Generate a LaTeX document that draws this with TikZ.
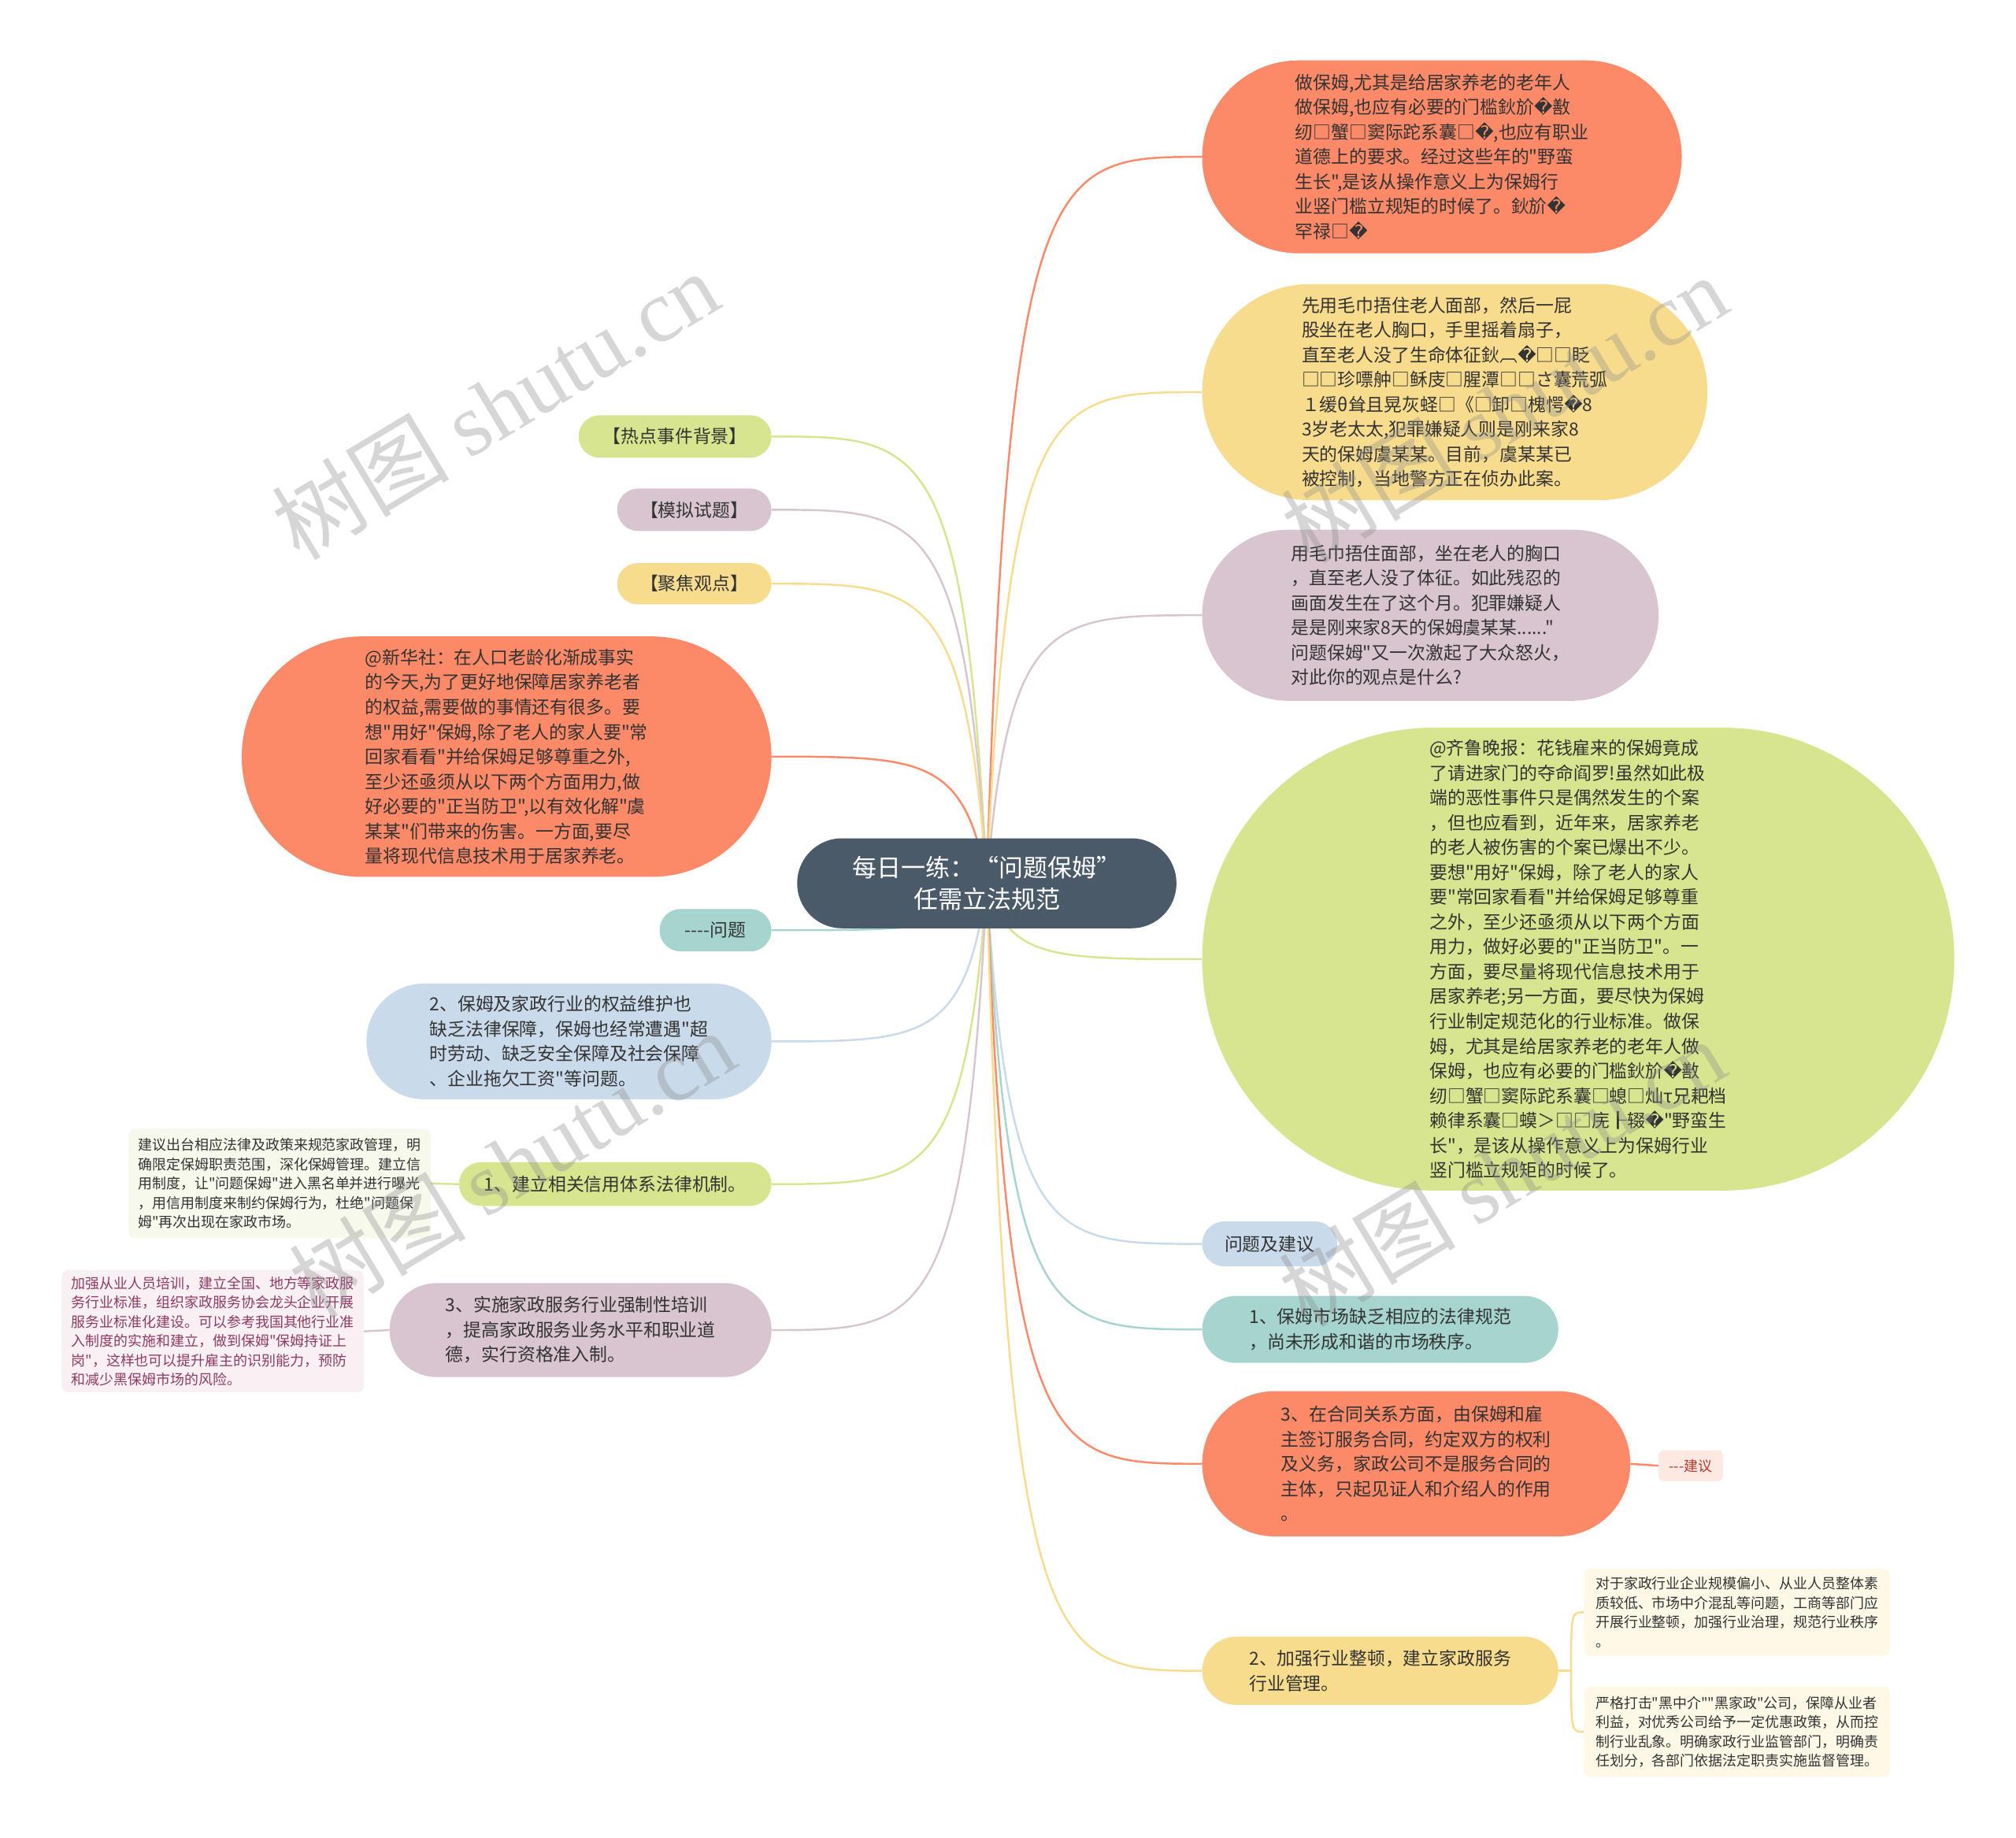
\documentclass[tikz,border=0pt]{standalone}
\usepackage{fontspec}
\newfontfamily\cjk{Noto Sans CJK SC}
\newfontfamily\dvs{DejaVu Sans}
\newfontfamily\wmserif{Liberation Serif}
\usetikzlibrary{backgrounds,calc}
\newcommand\R{{\dvs\char"FFFD}}
\definecolor{txt}{RGB}{51,51,51}
\definecolor{cOr}{RGB}{252,138,105}
\definecolor{cYe}{RGB}{248,220,142}
\definecolor{cPu}{RGB}{217,197,208}
\definecolor{cGr}{RGB}{215,229,142}
\definecolor{cBl}{RGB}{201,218,234}
\definecolor{cTe}{RGB}{166,213,207}
\definecolor{cCe}{RGB}{75,90,104}
\definecolor{nGr}{RGB}{247,249,236}
\definecolor{nPk}{RGB}{249,240,243}
\definecolor{nCr}{RGB}{254,249,231}
\definecolor{nRd}{RGB}{253,232,226}
\definecolor{tMa}{RGB}{142,59,100}
\definecolor{tRd}{RGB}{176,58,46}
\tikzset{
  pill/.style={fill=#1, text=txt, font=\cjk\fontsize{14pt}{19.3pt}\selectfont, align=left, inner sep=0pt, outer sep=0pt},
  notebox/.style={fill=#1, rounded corners=5pt, text=txt, font=\cjk\fontsize{11pt}{15pt}\selectfont, align=left, inner sep=0pt, outer sep=0pt},
  br/.style={draw=#1, line width=1.5pt},
  wm/.style={font=\cjk\fontsize{69pt}{69pt}\selectfont, text=black!45, opacity=0.35, rotate=31}
}
\newcommand\brch[2]{\draw[br=#1] let \p1=(mc.center), \p2=(#2) in (\p1) .. controls ({\x1+0.1*(\x2-\x1)},\y2) and ({\x1+0.3*(\x2-\x1)},\y2) .. (\p2);}
\begin{document}
\begin{tikzpicture}[x=1pt,y=-1pt]
\useasboundingbox (0,0) rectangle (1568,1429);

% central
\node[fill=cCe, text=white, font=\cjk\fontsize{19pt}{25pt}\selectfont, align=center, inner sep=0pt, minimum width=295pt, minimum height=70pt, rounded corners=34.9pt] (mc) at (767.5,687) {每日一练：“问题保姆”\\任需立法规范};

% right side
\node[pill=cOr, minimum width=373pt, minimum height=150pt, rounded corners=74.9pt] (r1) at (1121.5,122) {做保姆,尤其是给居家养老的老年人\\做保姆,也应有必要的门槛鈥斺\R{}敾\\纫□蟹□窦际跎系囊□\R{},也应有职业\\道德上的要求。经过这些年的"野蛮\\生长",是该从操作意义上为保姆行\\业竖门槛立规矩的时候了。鈥斺\R{}\\罕禄□\R{}};

\node[pill=cYe, minimum width=393pt, minimum height=168pt, rounded corners=83.9pt] (r2) at (1131.5,305) {先用毛巾捂住老人面部，然后一屁\\股坐在老人胸口，手里摇着扇子，\\直至老人没了生命体征鈥︹\R{}□□眨\\□□珍嘌舯□稣庋□腥潭□□さ囊荒弧\\１缓θ耸且晃灰蛏□《□卸□槐愕\R{}8\\3岁老太太,犯罪嫌疑人则是刚来家8\\天的保姆虞某某。目前，虞某某已\\被控制，当地警方正在侦办此案。};

\node[pill=cPu, minimum width=355pt, minimum height=133pt, rounded corners=66.4pt] (r3) at (1112.5,478.5) {用毛巾捂住面部，坐在老人的胸口\\，直至老人没了体征。如此残忍的\\画面发生在了这个月。犯罪嫌疑人\\是是刚来家8天的保姆虞某某......"\\问题保姆"又一次激起了大众怒火，\\对此你的观点是什么?};

\node[pill=cGr, minimum width=585pt, minimum height=360pt, rounded corners=179.9pt] (r4) at (1227.5,746) {@齐鲁晚报：花钱雇来的保姆竟成\\了请进家门的夺命阎罗!虽然如此极\\端的恶性事件只是偶然发生的个案\\，但也应看到，近年来，居家养老\\的老人被伤害的个案已爆出不少。\\要想"用好"保姆，除了老人的家人\\要"常回家看看"并给保姆足够尊重\\之外，至少还亟须从以下两个方面\\用力，做好必要的"正当防卫"。一\\方面，要尽量将现代信息技术用于\\居家养老;另一方面，要尽快为保姆\\行业制定规范化的行业标准。做保\\姆，尤其是给居家养老的老年人做\\保姆，也应有必要的门槛鈥斺\R{}敾\\纫□蟹□窦际跎系囊□螅□灿τ兄耙档\\赖律系囊□蟆＞□□庑┠辍\R{}"野蛮生\\长"，是该从操作意义上为保姆行业\\竖门槛立规矩的时候了。};

\node[pill=cBl, minimum width=105pt, minimum height=35pt, rounded corners=17.4pt] (r5) at (987.5,967.5) {问题及建议};

\node[pill=cTe, minimum width=277pt, minimum height=52pt, rounded corners=25.9pt] (r6) at (1073.5,1034) {1、保姆市场缺乏相应的法律规范\\，尚未形成和谐的市场秩序。};

\node[pill=cOr, minimum width=333pt, minimum height=113pt, rounded corners=56.4pt] (r7) at (1101.5,1138.5) {3、在合同关系方面，由保姆和雇\\主签订服务合同，约定双方的权利\\及义务，家政公司不是服务合同的\\主体，只起见证人和介绍人的作用\\。};

\node[fill=nRd, text=tRd, font=\cjk\fontsize{11pt}{14pt}\selectfont, inner sep=0pt, minimum width=50pt, minimum height=24pt, rounded corners=4pt] (r7b) at (1315,1140) {---建议};

\node[pill=cYe, minimum width=277pt, minimum height=53pt, rounded corners=26.4pt] (r8) at (1073.5,1299.5) {2、加强行业整顿，建立家政服务\\行业管理。};

\node[notebox=nCr, minimum width=238pt, minimum height=68pt] (n1) at (1351,1254) {对于家政行业企业规模偏小、从业人员整体素\\质较低、市场中介混乱等问题，工商等部门应\\开展行业整顿，加强行业治理，规范行业秩序\\。};

\node[notebox=nCr, minimum width=238pt, minimum height=70pt] (n2) at (1351,1347) {严格打击"黑中介""黑家政"公司，保障从业者\\利益，对优秀公司给予一定优惠政策，从而控\\制行业乱象。明确家政行业监管部门，明确责\\任划分，各部门依据法定职责实施监督管理。};

% left side
\node[pill=cGr, minimum width=150pt, minimum height=33pt, rounded corners=16.4pt] (l1) at (525,339.5) {【热点事件背景】};
\node[pill=cPu, minimum width=120pt, minimum height=33pt, rounded corners=16.4pt] (l2) at (540,396.5) {【模拟试题】};
\node[pill=cYe, minimum width=120pt, minimum height=32pt, rounded corners=15.9pt] (l3) at (540,454) {【聚焦观点】};

\node[pill=cOr, minimum width=412pt, minimum height=187pt, rounded corners=93.4pt] (l4) at (394,588.5) {@新华社：在人口老龄化渐成事实\\的今天,为了更好地保障居家养老者\\的权益,需要做的事情还有很多。要\\想"用好"保姆,除了老人的家人要"常\\回家看看"并给保姆足够尊重之外,\\至少还亟须从以下两个方面用力,做\\好必要的"正当防卫",以有效化解"虞\\某某"们带来的伤害。一方面,要尽\\量将现代信息技术用于居家养老。};

\node[pill=cTe, minimum width=87pt, minimum height=33pt, rounded corners=16.4pt] (l5) at (556.5,723.5) {----问题};

\node[pill=cBl, minimum width=315pt, minimum height=90pt, rounded corners=44.9pt] (l6) at (442.5,810) {2、保姆及家政行业的权益维护也\\缺乏法律保障，保姆也经常遭遇"超\\时劳动、缺乏安全保障及社会保障\\、企业拖欠工资"等问题。};

\node[pill=cGr, minimum width=243pt, minimum height=34pt, rounded corners=16.9pt] (l7) at (478.5,921) {1、建立相关信用体系法律机制。};

\node[notebox=nGr, minimum width=235pt, minimum height=85pt] (l7n) at (217.5,920.5) {建议出台相应法律及政策来规范家政管理，明\\确限定保姆职责范围，深化保姆管理。建立信\\用制度，让"问题保姆"进入黑名单并进行曝光\\，用信用制度来制约保姆行为，杜绝"问题保\\姆"再次出现在家政市场。};

\node[pill=cPu, minimum width=297pt, minimum height=73pt, rounded corners=36.4pt] (l8) at (451.5,1034.5) {3、实施家政服务行业强制性培训\\，提高家政服务业务水平和职业道\\德，实行资格准入制。};

\node[notebox=nPk, text=tMa, minimum width=235pt, minimum height=95pt] (l8n) at (165.5,1035.5) {加强从业人员培训，建立全国、地方等家政服\\务行业标准，组织家政服务协会龙头企业开展\\服务业标准化建设。可以参考我国其他行业准\\入制度的实施和建立，做到保姆"保姆持证上\\岗"，这样也可以提升雇主的识别能力，预防\\和减少黑保姆市场的风险。};

\coordinate (jn) at (1222,1299.5);

\begin{pgfonlayer}{background}
\fill[white] (0,0) rectangle (1568,1429);
\brch{cOr}{r1.west}
\brch{cYe}{r2.west}
\brch{cPu}{r3.west}
\brch{cGr}{r4.west}
\brch{cBl}{r5.west}
\brch{cTe}{r6.west}
\brch{cOr}{r7.west}
\brch{cYe}{r8.west}
\brch{cGr}{l1.east}
\brch{cPu}{l2.east}
\brch{cYe}{l3.east}
\brch{cOr}{l4.east}
\brch{cTe}{l5.east}
\brch{cBl}{l6.east}
\brch{cGr}{l7.east}
\brch{cPu}{l8.east}
\draw[br=cOr] (r7.east) -- (r7b.west);
\draw[br=cYe] (r8.east) -- (jn);
\draw[br=cYe] (jn) .. controls (1222,1254) .. (n1.west);
\draw[br=cYe] (jn) .. controls (1222,1347) .. (n2.west);
\draw[br=cGr] (l7n.east) -- (l7.west);
\draw[br=cPu] (l8n.east) -- (l8.west);
\end{pgfonlayer}

% watermarks
\node[wm] (w1) at (385,315) {树图 {\wmserif shutu.cn}};
\node[wm] (w2) at (1170,318) {树图 {\wmserif shutu.cn}};
\node[wm] (w3) at (398,905) {树图 {\wmserif shutu.cn}};
\node[wm] (w4) at (1168,912) {树图 {\wmserif shutu.cn}};
\end{tikzpicture}
\end{document}
